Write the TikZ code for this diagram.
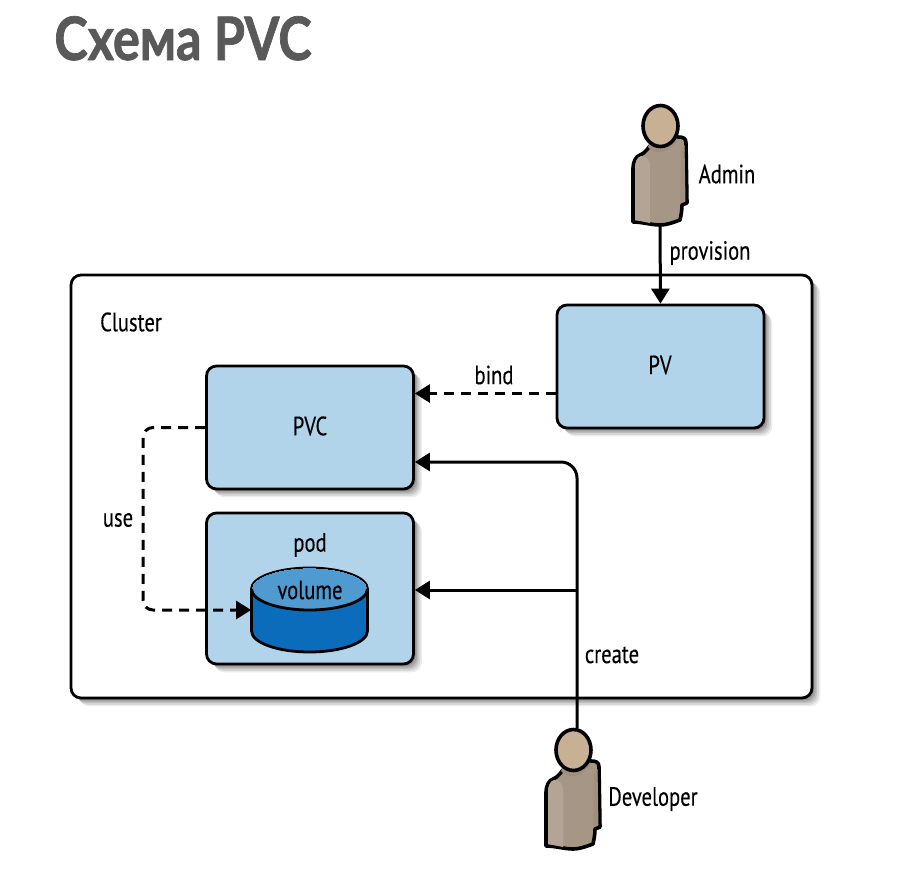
\documentclass[tikz,border=0pt]{standalone}
\usepackage{fontspec}
\setmainfont{PT Sans}[FakeStretch=0.78, FakeBold=0.25]
\newfontfamily\titlefont{Lato}[FakeStretch=0.84, FakeBold=1.2]
\usepackage{tikz}
\usetikzlibrary{arrows.meta, positioning, calc}

\definecolor{boxblue}{HTML}{B2D4EA}
\definecolor{volbody}{HTML}{0A6CBB}
\definecolor{voltop}{HTML}{4F9AD0}
\definecolor{skin}{HTML}{C8B095}
\definecolor{cloth}{HTML}{A69686}
\definecolor{clothlight}{HTML}{B3A495}
\definecolor{clothdark}{HTML}{A08F7F}

\tikzset{
    softshadow/.style={
        preaction={fill=black, opacity=.07, transform canvas={xshift=4.2pt, yshift=-4.2pt}},
        preaction={fill=black, opacity=.09, transform canvas={xshift=3.4pt, yshift=-3.4pt}},
        preaction={fill=black, opacity=.11, transform canvas={xshift=2.6pt, yshift=-2.6pt}},
        preaction={fill=black, opacity=.13, transform canvas={xshift=1.8pt, yshift=-1.8pt}},
        preaction={fill=black, opacity=.15, transform canvas={xshift=1pt, yshift=-1pt}}},
    pics/person/.style={code={
        \draw[fill=cloth, line width=1.8pt, line join=round]
            (18,-28) .. controls (23,-28) and (26,-27) .. (26,-22)
            -- (27,38) -- (22,40) .. controls (22,46) and (21,50) .. (20,55)
            .. controls (12,58) and (6,60) .. (0,60)
            .. controls (-8,60) and (-18,57) .. (-27,57)
            -- (-27,3) .. controls (-27,-3) and (-24,-9) .. (-20,-10)
            .. controls (-14,-12) and (-12,-18) .. (-8,-21) -- cycle;
        \fill[clothlight] (-25,55) -- (-25,3) .. controls (-25,-3) and (-23,-8) .. (-19,-9)
            .. controls (-14,-9) and (-10,-6) .. (-10,2) -- (-10,58) -- cycle;
        \fill[clothdark] (24.5,-20) -- (25.5,36) -- (20,38) -- (21,-15) -- cycle;
        \fill[clothdark] (-12,-18) .. controls (-6,-10) and (10,-10) .. (18,-26) -- (10,-30) -- (-8,-28) -- cycle;
        \draw[fill=skin, line width=1.8pt] (0.5,-39) ellipse [x radius=17.5, y radius=20.5];
    }},
    pics/drum/.style={code={
        \draw[fill=volbody, line width=1.4pt] (-58,-21) -- (-58,21) arc [start angle=180, end angle=360, x radius=58, y radius=-21]
            -- (58,-21) arc [start angle=0, end angle=180, x radius=58, y radius=-21] -- cycle;
        \draw[fill=voltop, line width=0pt, draw=voltop] (0,-21) ellipse [x radius=57.2, y radius=20.2];
        \draw[line width=1.4pt] (-58,-21) arc [start angle=180, end angle=0, x radius=58, y radius=21];
    }},
    label/.style={inner sep=0pt, font=\fontsize{13.2}{15}\selectfont, text=black},
    person/.style={minimum width=27pt, minimum height=60pt, inner sep=0pt},
    drumbox/.style={minimum width=58pt, minimum height=42pt, inner sep=0pt},
    box/.style={draw, line width=1.4pt, fill=boxblue, rounded corners=5pt, inner sep=0pt,
        minimum width=103.5pt, softshadow},
    arrow/.style={-{Triangle[length=7.5pt, width=9pt]}, line width=1.5pt},
    dashedarrow/.style={-{Triangle[length=7.5pt, width=9pt]}, line width=1.5pt, dash pattern=on 5pt off 3.5pt},
}

\begin{document}
\begin{tikzpicture}[x=0.5pt, y=-0.5pt]
    \useasboundingbox (0,0) rectangle (911,873);
    % Nodes
    \node[anchor=base west, inner sep=0pt, text=black!65, font=\titlefont\bfseries\fontsize{30}{35}\selectfont] (title) at (54,60) {Схема PVC};
    \node[draw, line width=1.4pt, fill=white, rounded corners=5pt, inner sep=0pt, minimum width=370.5pt, minimum height=211.5pt, softshadow] (cluster) at (441.5,486.5) {};
    \node[box, minimum height=61.5pt] (pv) at (660.5,366.5) {};
    \node[box, minimum height=61.5pt] (pvc) at (310,427.5) {};
    \node[box, minimum height=75.5pt] (pod) at (310,588.5) {};
    \node[drumbox] (volume) at (309.5,610) {};
    \node[person] (admin) at (660,165) {};
    \node[person] (developer) at (573,789) {};
    \pic at (volume) {drum};
    \pic at (admin) {person};
    \pic at (developer) {person};

    % Labels
    \node[label] (clusterlabel) at (131,322) {Cluster};
    \node[label] (pvlabel) at (660,365) {PV};
    \node[label] (pvclabel) at (310,426) {PVC};
    \node[label] (podlabel) at (310,545) {pod};
    \node[label] (volumelabel) at (310,590) {volume};
    \node[label] (bindlabel) at (494,375) {bind};
    \node[label] (uselabel) at (118,520) {use};
    \node[label] (createlabel) at (612,655) {create};
    \node[label] (provisionlabel) at (710,253) {provision};
    \node[label] (adminlabel) at (727,174) {Admin};
    \node[label] (developerlabel) at (653,799) {Developer};

    % Arrows
    \coordinate (devtop) at ([xshift=2pt]developer.north);
    \draw[arrow] (admin.south) -- (pv.north);
    \draw[dashedarrow] ([yshift=-13.5pt]pv.west) -- ([yshift=-13.5pt]pv.west -| pvc.east);
    \draw[arrow, rounded corners=8pt] (devtop) |- ([yshift=-17.25pt]pvc.east);
    \draw[arrow] (devtop |- pod.east) ++(0,1.5) -- ([yshift=-.75pt]pod.east);
    \draw[dashedarrow, rounded corners=5pt] (pvc.west) -| (143,610) -- (volume.west);
\end{tikzpicture}
\end{document}
